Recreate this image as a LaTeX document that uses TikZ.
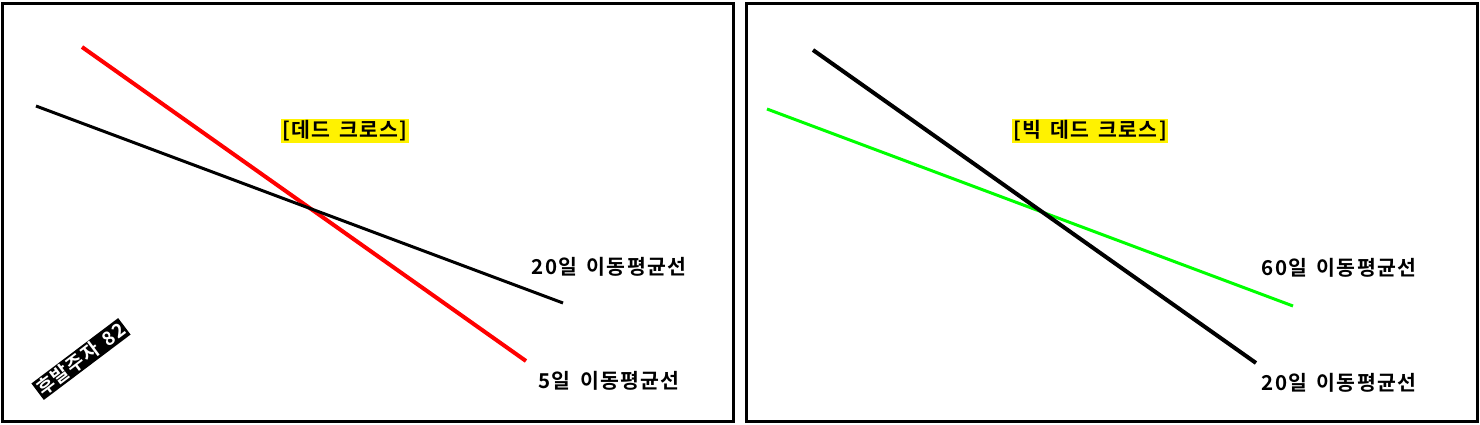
\documentclass[tikz,border=0pt]{standalone}
\usepackage{fontspec}
\newfontfamily\kr{Noto Sans CJK KR}[BoldFont={* Bold},LetterSpace=6,WordSpace=1.6]
\begin{document}
\begin{tikzpicture}[x=1pt,y=-1pt,
  frame/.style={draw=black,line width=3pt},
  lbl/.style={font=\kr\bfseries\fontsize{20.5}{22}\selectfont,inner sep=1pt},
  ttl/.style={lbl,fill=yellow,inner sep=1.5pt},
  ma/.style={line width=3.5pt}]
\useasboundingbox (0,0) rectangle (1480,424);
\fill[white] (0,0) rectangle (1480,424);
\draw[frame] (2.5,3) rectangle (733.5,421.5);
\draw[frame] (746,3) rectangle (1477.5,421.5);
% left panel
\coordinate (r1) at (82,47); \coordinate (r2) at (526,361);
\coordinate (b1) at (36,106); \coordinate (b2) at (563,303);
\draw[ma,red,line width=4pt] (r1) -- (r2);
\draw[ma,black,line width=3pt] (b1) -- (b2);
\node[ttl] (t1) at (345,131) {[데드 크로스]};
\node[lbl] (l20) at (609,267) {20일 이동평균선};
\node[lbl] (l5) at (609,381) {5일 이동평균선};
\node[fill=black,text=white,font=\kr\bfseries\fontsize{19}{20}\selectfont,rotate=37,inner sep=1.5pt] (wm) at (81,359) {후발주자 82};
% right panel
\coordinate (k1) at (813,50); \coordinate (k2) at (1256,363);
\coordinate (g1) at (767,109); \coordinate (g2) at (1293,306);
\draw[ma,green,line width=3pt] (g1) -- (g2);
\draw[ma,black,line width=4pt] (k1) -- (k2);
\node[ttl] (t2) at (1090,131) {[빅 데드 크로스]};
\node[lbl] (l60) at (1339,268) {60일 이동평균선};
\node[lbl] (l20b) at (1339,383) {20일 이동평균선};
\end{tikzpicture}
\end{document}
